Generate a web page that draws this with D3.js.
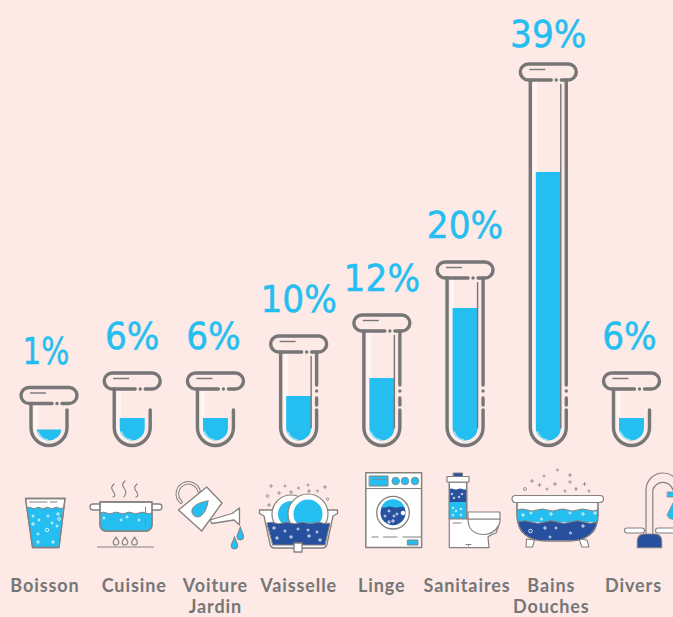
<!DOCTYPE html>
<html>
<head>
<meta charset="utf-8">
<script src="https://cdn.jsdelivr.net/npm/d3@7"></script>
<style>
  html, body { margin: 0; padding: 0; background: #fde9e6; }
  svg { display: block; }
</style>
</head>
<body>
<div id="chart"></div>
<script>
const categories = ['Boisson', 'Cuisine', 'Voiture', 'Vaisselle', 'Linge', 'Sanitaires', 'Bains', 'Divers'];
const secondLines = ['', '', 'Jardin', '', '', '', 'Douches', ''];
const percents = [1, 6, 6, 10, 12, 20, 39, 6];

const width = 673, height = 617;
const blue = '#25bef0', navy = '#27519f', grey = '#767676', iconGrey = '#85817f', white = '#ffffff';
const tubeBottom = 445.5;

const x = d3.scalePoint().domain(categories).range([49, 631.5]);

// the tubes are not to scale in the original, hence the broken scales
const capScale = d3.scaleLinear().domain([1, 6, 10, 12, 20, 39]).range([50, 64.5, 101.5, 122.5, 175.5, 373.5]);
const fillScale = d3.scaleLinear().domain([1, 6, 10, 12, 20, 39]).range([11, 23, 45, 63, 133, 269]);

const labelNudge = [-4, 2, 0, 0, 0, 2, 3, 2];
const pctNudge = [-3, 0, -2, 0, 0, 0, 0, -2];
const pctFormat = d => d + '%';

const svg = d3.select('#chart').append('svg')
    .attr('width', width)
    .attr('height', height);

svg.append('rect').attr('width', width).attr('height', height).attr('fill', '#fde9e6');

// tubes
function drawTube(g, d) {
    const capY = tubeBottom - capScale(d);
    const fillY = tubeBottom - 4.5 - fillScale(d);
    const r = 18, b = tubeBottom - r;

    // pale glass strip
    g.append('path')
        .attr('d', `M-13,${capY + 8}V${b}A13,13 0 0 0 -3,${tubeBottom - 5}`)
        .attr('fill', 'none').attr('stroke', '#fff6f3').attr('stroke-width', 4);

    // liquid
    const fr = 12.5, fb = tubeBottom - 5;
    const ft = Math.min(fillY, fb - 11);
    const mid = fb - fr;
    const dy = Math.max(ft, mid);
    const halfAtTop = ft < mid ? fr : Math.sqrt(fr * fr - (ft - mid) * (ft - mid));
    g.append('path')
        .attr('d', `M${-halfAtTop},${ft}H${halfAtTop}V${dy}A${fr},${fr} 0 0 1 ${-halfAtTop},${dy}Z`)
        .attr('fill', blue);
    g.append('path')
        .attr('d', `M-11,${fb - 9}A12,12 0 0 0 -1,${fb - 0.5}`)
        .attr('fill', 'none').attr('stroke', '#9fe0f5').attr('stroke-width', 1.6);

    const line = s => g.append('path').attr('d', s).attr('fill', 'none')
        .attr('stroke', grey).attr('stroke-width', 3.4).attr('stroke-linecap', 'round');

    // left wall and bottom
    line(`M${-r},${capY + 8}V${b}A${r},${r} 0 0 0 ${r},${b}V${410}`);
    // right wall above the break
    if (capY + 8 < 380) {
        line(`M${r},${capY + 8}V${385}`);
        line(`M${r},${391}V${391.1}`);
        line(`M${r},${398}V${405}`);
    }
    // cap
    line(`M3,${capY + 8}H-20A8,8 0 0 1 -20,${capY - 8}H20A8,8 0 0 1 20,${capY + 8}H13`);
    line(`M8,${capY + 8}V${capY + 8.1}`);
    g.append('path').attr('d', `M-19,${capY - 2.5}H-3`).attr('stroke', grey).attr('stroke-width', 1.4);
    // thin inner reflection on the tall ones
    if (capY + 8 < 380) {
        g.append('path').attr('d', `M12.5,${capY + 12}V${tubeBottom - 17}`).attr('stroke', grey).attr('stroke-width', 1.4);
    }
}

percents.forEach((d, i) => {
    const g = svg.append('g').attr('transform', `translate(${x(categories[i])},0)`);
    drawTube(g, d);
    const capTop = tubeBottom - capScale(d) - 8;
    const t = g.append('text')
        .attr('x', pctNudge[i])
        .attr('y', d === 39 ? capTop - 17 : capTop - 24)
        .attr('text-anchor', 'middle')
        .attr('font-family', '"DejaVu Sans"')
        .attr('font-size', 37)
        .attr('fill', blue)
        .attr('stroke', blue)
        .attr('stroke-width', 0.5)
        .text(pctFormat(d));
    // the original face is a little narrower
    t.attr('textLength', t.node().getComputedTextLength() * (d === 1 ? 0.8 : 0.93))
        .attr('lengthAdjust', 'spacingAndGlyphs');
});

// category labels
categories.forEach((c, i) => {
    const t = svg.append('text')
        .attr('text-anchor', 'middle')
        .attr('font-family', 'Lato')
        .attr('font-weight', 700)
        .attr('font-size', 18)
        .attr('letter-spacing', 0.9)
        .attr('fill', grey);
    t.append('tspan').attr('x', x(c) + labelNudge[i]).attr('y', 591.5).text(c);
    if (secondLines[i]) {
        t.append('tspan').attr('x', x(c) + labelNudge[i]).attr('y', 613.3).text(secondLines[i]);
    }
});

// icons
const icons = svg.append('g').attr('class', 'icons');

function p(d, fill, stroke, sw) {
    return icons.append('path').attr('d', d)
        .attr('fill', fill || 'none')
        .attr('stroke', stroke || 'none')
        .attr('stroke-width', sw || 1.3)
        .attr('stroke-linejoin', 'round')
        .attr('stroke-linecap', 'round');
}

function wave(x0, x1, y, n, amp) {
    const step = (x1 - x0) / n;
    let s = '';
    for (let i = 0; i < n; i++) {
        const a = x0 + i * step;
        s += `Q${a + step / 4},${y - amp} ${a + step / 2},${y}Q${a + 3 * step / 4},${y + amp} ${a + step},${y}`;
    }
    return s;
}

function bubble(cx, cy, r, col) {
    icons.append('circle').attr('cx', cx).attr('cy', cy).attr('r', r)
        .attr('fill', 'none').attr('stroke', col || white).attr('stroke-width', 0.8);
}

function plus(cx, cy, col) {
    p(`M${cx - 1.6},${cy}H${cx + 1.6}M${cx},${cy - 1.6}V${cy + 1.6}`, null, col || white, 0.8);
}

function drop(cx, top, bottom, w) {
    const m = bottom - w;
    return `M${cx},${top}C${cx + 1},${top + 3} ${cx + w},${m - 2} ${cx + w},${m}A${w},${w} 0 0 1 ${cx - w},${m}C${cx - w},${m - 2} ${cx - 1},${top + 3} ${cx},${top}Z`;
}

// Boisson
p('M25.5,498.5H65L59,547.5H32.5Z', white, iconGrey);
p('M27.3,508' + wave(27.3, 63, 508, 4, 1.6) + 'L59,547H32.5Z', blue);
p('M27.3,508' + wave(27.3, 63, 508, 4, 1.6), null, iconGrey, 1);
p('M25.5,498.5H65L59,547.5H32.5Z', null, iconGrey);
p('M29.5,502H47M50,502H57', null, iconGrey, 1);
[[33, 516], [39, 520], [48, 516], [52, 523], [38, 534], [57, 526]].forEach(d => bubble(d[0], d[1], 1));
bubble(59, 519, 1.4); bubble(47, 530, 1.7);
[[33, 524], [38, 542], [53, 542], [58, 514]].forEach(d => plus(d[0], d[1]));

// Cuisine
p('M100,504H93A3,3 0 0 0 93,510H100M152,504H159A3,3 0 0 1 159,510H152', white, iconGrey);
p('M100,502H152V525A6,6 0 0 1 146,531H106A6,6 0 0 1 100,525Z', white, iconGrey);
p('M100,513' + wave(100, 152, 513, 4, 1.7) + 'V525A6,6 0 0 1 146,531H106A6,6 0 0 1 100,525Z', blue);
p('M100,513' + wave(100, 152, 513, 4, 1.7), null, iconGrey, 1);
p('M100,502H152V525A6,6 0 0 1 146,531H106A6,6 0 0 1 100,525Z', null, iconGrey);
p('M145.5,507V514M145.5,520V523.5', null, iconGrey, 1);
[[104, 518], [127, 517], [121, 520], [139, 520]].forEach(d => bubble(d[0], d[1], 1));
[[114, 484], [125, 481], [137, 484]].forEach(d => p(`M${d[0]},${d[1]}c-3,3 -3,4 -1,7c2,3 3,5 0,${d[0] === 125 ? 9 : 6}`, null, iconGrey, 1.1));
[116, 125, 134.5].forEach(cx => p(drop(cx, 537, 545, 2.8), null, iconGrey, 1.2));
p('M97.5,547H153.5', null, iconGrey, 1.1);

// Voiture Jardin
p('M210,520L232,513.5L239.5,508V525L234,520L212,523.5Z', white, iconGrey);
p('M181,502A11,11 0 1 1 199,491', null, iconGrey, 3.6);
p('M181,502A11,11 0 1 1 199,491', null, '#fde9e6', 1.6);
p('M206.7,487L222,503L201.7,531L178.5,510Z', white, iconGrey);
p('M208,501C207,507 206,512 200,516.5C196,518 191,515 192,510C193,505 201,502 208,501Z', blue, iconGrey, 1);
p(drop(240.3, 527, 540, 3.3), blue, iconGrey, 1);
p(drop(234.5, 537, 549, 3.3), blue, iconGrey, 1);

// Vaisselle
p('M259.5,510H337.5V513.5L333,516L327,544A5,5 0 0 1 322,548H275A5,5 0 0 1 270,544L264,516L259.5,513.5Z', white, iconGrey);
icons.append('circle').attr('cx', 291).attr('cy', 514).attr('r', 19).attr('fill', white).attr('stroke', iconGrey).attr('stroke-width', 1.2);
icons.append('circle').attr('cx', 291).attr('cy', 514).attr('r', 13).attr('fill', blue);
icons.append('circle').attr('cx', 308).attr('cy', 514).attr('r', 20).attr('fill', white).attr('stroke', iconGrey).attr('stroke-width', 1.2);
icons.append('circle').attr('cx', 308).attr('cy', 514).attr('r', 14.5).attr('fill', blue);
p('M267,523' + wave(267, 330, 523, 4, 1.5) + 'L325,545H273Z', navy, iconGrey, 1);
p('M294,543H302V552H294Z', white, iconGrey);
[[285, 531], [298, 529], [308, 530], [317, 532]].forEach(d => bubble(d[0], d[1], 1));
[[274, 528], [277, 538], [291, 537], [309, 536], [320, 540]].forEach(d => plus(d[0], d[1]));
[[267.5, 496, 1.4], [285, 486, 1], [298.5, 488, 1], [308, 485, 1], [317.5, 491, 1], [327.5, 499, 1.2]].forEach(d => bubble(d[0], d[1], d[2], iconGrey));
[[271, 486], [279, 493], [291, 492], [309, 491], [325, 487], [269, 505]].forEach(d => plus(d[0], d[1], iconGrey));

// Linge
p('M365.8,472.8H421.6V547.6H365.8Z', white, iconGrey, 1.5);
p('M365.8,488.5H421.6', null, iconGrey, 1);
p('M369.5,476H388V486H369.5Z', blue, iconGrey, 1);
p('M373,479.5H381M383,479.5H386', null, iconGrey, 0.8);
[395.7, 405, 415].forEach(cx => icons.append('circle').attr('cx', cx).attr('cy', 481).attr('r', 3.8).attr('fill', blue).attr('stroke', iconGrey).attr('stroke-width', 0.8));
icons.append('circle').attr('cx', 393).attr('cy', 512.7).attr('r', 16.3).attr('fill', white).attr('stroke', iconGrey).attr('stroke-width', 1.3);
icons.append('circle').attr('cx', 393).attr('cy', 512.7).attr('r', 12.5).attr('fill', navy);
p('M381,508A12.5,12.5 0 0 1 405,508' + wave(405, 381, 507, 2, 1), blue);
p('M401,512a2,2 0 1 0 4,2a2,2 0 1 0 -4,-2Z', white);
[[389, 511], [394, 516], [397, 514], [385, 516]].forEach(d => bubble(d[0], d[1], 1));
[[389, 522], [393, 521]].forEach(d => plus(d[0], d[1]));
p('M372,537H378M383.5,537H397M403,537H421', null, iconGrey, 1);
p('M407.7,540H418V545H407.7Z', blue, iconGrey, 1);

// Sanitaires
p('M453.5,473H462.5V476.5H453.5Z', navy, iconGrey, 1);
p('M449.3,482H466.7V519H449.3Z', white, iconGrey, 1.2);
p('M449.3,489' + wave(449.3, 466.7, 489, 2, 1) + 'V502H449.3Z', navy);
p('M449.3,502H466.7V519H449.3Z', blue);
p('M449.3,482H466.7V519H449.3Z', null, iconGrey, 1.2);
p('M447,476.5H469V482H447Z', white, iconGrey, 1.2);
[[452, 494], [454, 498], [462, 494], [459, 497]].forEach(d => bubble(d[0], d[1], 0.8));
[[453, 508], [456, 511], [461, 509], [453, 515], [461, 515]].forEach(d => bubble(d[0], d[1], 0.8));
p('M449.3,519H500V522L496,533Q490,535 488,537L489,547.6H449.3Z', white, iconGrey, 1.2);
p('M468,512H500V519H468Z', white, iconGrey, 1.2);
p('M468,519C468,530 475,534.5 484,534.5C490,534.5 496,531 498,526', null, iconGrey, 1.2);
p('M453,523H461', null, iconGrey, 1);
p('M466,544.5H471M468.5,544.5V546', null, iconGrey, 1);

// Bains Douches
p('M526.5,539L534.5,540L532.5,547H526Z', white, iconGrey, 1.1);
p('M579,539L587,540L589,547H582Z', white, iconGrey, 1.1);
p('M517,501H598V515C598,532 586,541 570,541H545C529,541 517,532 517,515Z', white, iconGrey, 1.2);
p('M517,510' + wave(517, 598, 510, 4, 2) + 'V522H517Z', blue);
p('M517,510' + wave(517, 598, 510, 4, 2), null, iconGrey, 1);
p('M518,522' + wave(518, 597, 522, 3, 2.5) + 'C597,533 586,540.5 570,540.5H545C529,540.5 518,533 518,522Z', navy);
p('M518,522' + wave(518, 597, 522, 3, 2.5), null, iconGrey, 1);
p('M517,501H598V515C598,532 586,541 570,541H545C529,541 517,532 517,515Z', null, iconGrey, 1.2);
p('M515.5,495.5H600A3.5,3.5 0 0 1 600,502.5H515.5A3.5,3.5 0 0 1 515.5,495.5Z', white, iconGrey, 1.2);
[[531, 513], [570, 513], [541.5, 519], [530.5, 531, 1.8], [556, 528], [570.5, 533], [550, 537]].forEach(d => bubble(d[0], d[1], d[2] || 1));
[[523, 515], [551, 514], [583, 514], [595, 513], [545, 528], [583, 526]].forEach(d => plus(d[0], d[1]));
[[525, 489, 1.5], [547, 489, 1], [544, 476, 1], [557.5, 470, 1], [570, 482, 1.2], [565, 491, 1], [589, 491, 1]].forEach(d => bubble(d[0], d[1], d[2], iconGrey));
[[532, 481], [539.5, 485], [555, 484], [570, 475], [576, 489], [584.5, 484]].forEach(d => plus(d[0], d[1], iconGrey));

// Divers
p('M646,533V490A17,17 0 0 1 680,490V500', null, iconGrey, 1.2);
p('M652.8,533V490A10.5,10.5 0 0 1 673,490', null, iconGrey, 1.2);
p('M667.5,492H675V497H667.5Z', blue, iconGrey, 0.8);
p('M673,503L667,515Q669,520 675,519V503Z', blue, iconGrey, 0.8);
p('M627,528H642A1.5,1.5 0 0 1 642,533H627A2.5,2.5 0 0 1 627,528Z', white, iconGrey, 1.1);
p('M658,528H675V533H658A2.5,2.5 0 0 1 658,528Z', white, iconGrey, 1.1);
p('M637.3,547.7V541C637.3,537 640,534 644,534H655C659,534 661.7,537 661.7,541V547.7Z', navy, iconGrey, 1.1);
</script>
</body>
</html>
